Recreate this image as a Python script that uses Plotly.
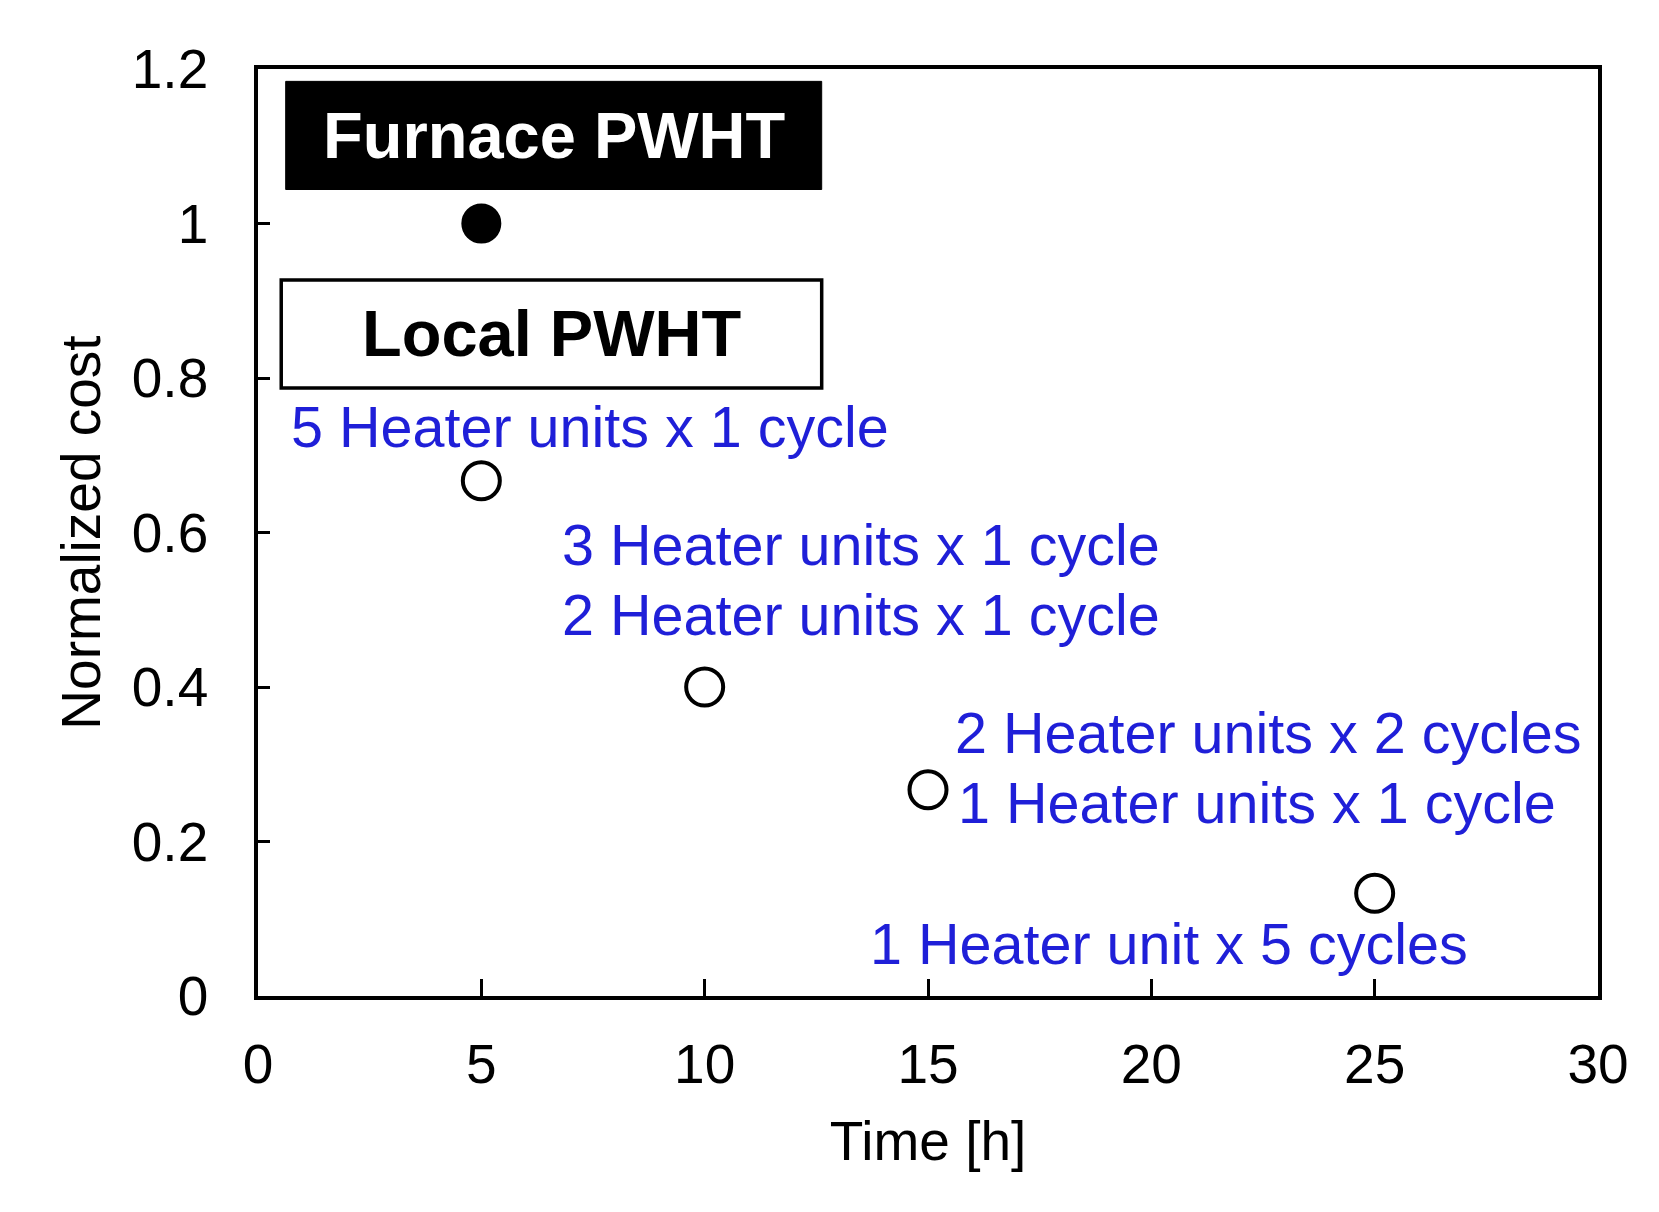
import plotly.graph_objects as go

# Data
furnace_time = [5]
furnace_cost = [1.0]
local_time = [5, 10, 15, 25]
local_cost = [0.667, 0.4, 0.267, 0.133]

x_ticks = [0, 5, 10, 15, 20, 25, 30]
y_ticks = [0, 0.2, 0.4, 0.6, 0.8, 1.0, 1.2]
y_tick_text = ["0", "0.2", "0.4", "0.6", "0.8", "1", "1.2"]

labels = [
    "5 Heater units x 1 cycle",
    "3 Heater units x 1 cycle",
    "2 Heater units x 1 cycle",
    "2 Heater units x 2 cycles",
    "1 Heater units x 1 cycle",
    "1 Heater unit x 5 cycles",
]
label_x = [0.70, 6.75, 6.75, 15.57, 15.62, 13.66]
label_y = [0.737, 0.584, 0.493, 0.340, 0.250, 0.067]

FONT = "Liberation Sans, Arial, sans-serif"
BLUE = "#1f1fd8"

fig = go.Figure()
fig.add_trace(go.Scatter(
    x=furnace_time, y=furnace_cost, mode="markers",
    marker=dict(size=38, color="black", line=dict(color="black", width=2)),
    showlegend=False, cliponaxis=False))
fig.add_trace(go.Scatter(
    x=local_time, y=local_cost, mode="markers",
    marker=dict(size=37, color="white", line=dict(color="black", width=4)),
    showlegend=False, cliponaxis=False))

# Boxes
fig.add_shape(type="rect", xref="x", yref="y", x0=0.62, x1=12.62, y0=1.044, y1=1.184,
              fillcolor="black", line=dict(color="black", width=1), layer="below")
fig.add_shape(type="rect", xref="x", yref="y", x0=0.52, x1=12.62, y0=0.787, y1=0.927,
              fillcolor="white", line=dict(color="black", width=3.5), layer="below")
fig.add_annotation(x=6.62, y=1.114, text="<b>Furnace PWHT</b>", showarrow=False,
                   font=dict(family=FONT, size=65, color="white"))
fig.add_annotation(x=6.57, y=0.857, text="<b>Local PWHT</b>", showarrow=False,
                   font=dict(family=FONT, size=65, color="black"))

for t, lx, ly in zip(labels, label_x, label_y):
    fig.add_annotation(x=lx, y=ly, text=t, showarrow=False, xanchor="left", yanchor="middle",
                       font=dict(family=FONT, size=57.5, color=BLUE))

fig.update_xaxes(range=[0, 30], tickvals=x_ticks, ticks="inside", ticklen=17, tickwidth=2.5,
                 tickcolor="black", showline=True, linewidth=3.5, linecolor="black", mirror=True,
                 showgrid=False, zeroline=False, ticklabelstandoff=17,
                 tickfont=dict(family=FONT, size=55, color="black"),
                 title=dict(text="Time [h]", font=dict(family=FONT, size=55, color="black"), standoff=29))
fig.update_yaxes(range=[0, 1.2], tickvals=y_ticks, ticktext=y_tick_text, ticks="inside", ticklen=12,
                 tickwidth=2.5, tickcolor="black", showline=True, linewidth=3.5, linecolor="black",
                 mirror=True, showgrid=False, zeroline=False, ticklabelstandoff=35,
                 tickfont=dict(family=FONT, size=55, color="black"),
                 title=dict(text="Normalized cost", font=dict(family=FONT, size=55, color="black"), standoff=15))

fig.update_layout(width=1659, height=1212, plot_bgcolor="white", paper_bgcolor="white",
                  margin=dict(l=250, r=69, t=61, b=224))

fig.write_html("out.html")
